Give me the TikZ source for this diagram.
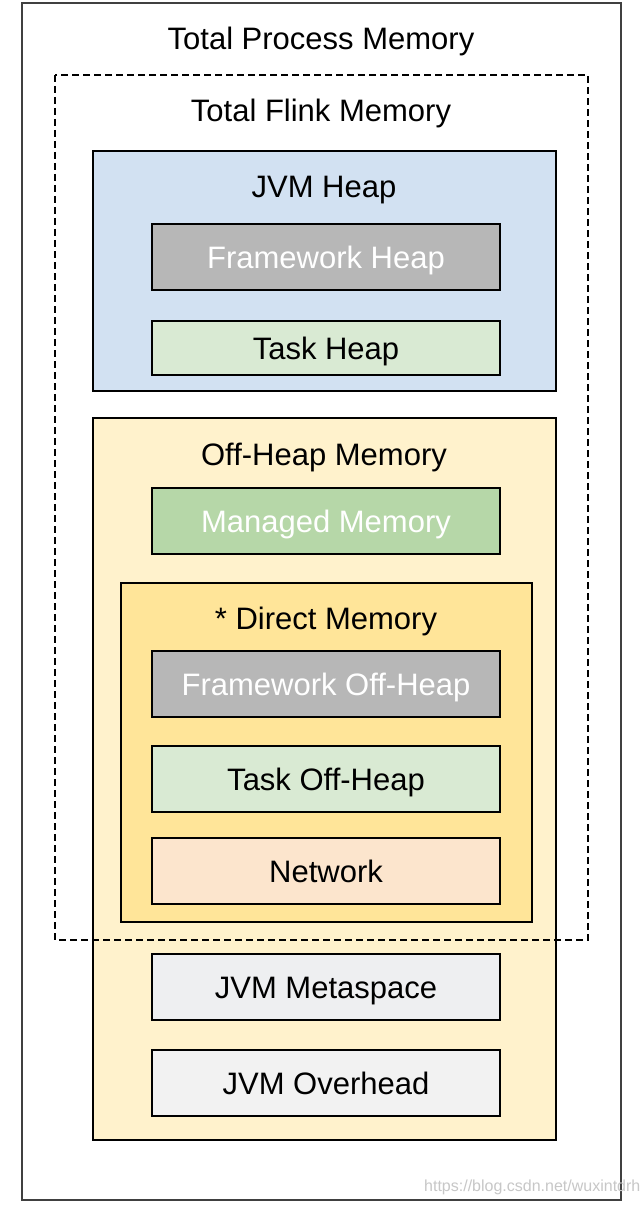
\documentclass[tikz,border=0pt]{standalone}
\usepackage{fontspec}
\setmainfont{Liberation Sans}
\definecolor{heapblue}{HTML}{D2E1F2}
\definecolor{fwgray}{HTML}{B7B7B7}
\definecolor{taskgreen}{HTML}{D9EAD3}
\definecolor{mangreen}{HTML}{B6D7A8}
\definecolor{offyellow}{HTML}{FFF2CC}
\definecolor{diryellow}{HTML}{FFE599}
\definecolor{netorange}{HTML}{FCE5CD}
\definecolor{metagray}{HTML}{EEEFF1}
\definecolor{ovgray}{HTML}{F2F2F2}
\begin{document}
\begin{tikzpicture}[x=1pt,y=-1pt,
  lbl/.style={font=\fontsize{31}{36}\selectfont, inner sep=0pt, text=black,
    text height=22.6pt, text depth=0pt},
  inbox/.style={draw=black, line width=1.3pt, rectangle, inner sep=0pt,
    minimum width=348pt, minimum height=66pt, font=\fontsize{31}{36}\selectfont,
    text height=22.6pt, text depth=0pt},
  cont/.style={draw=black, line width=1.3pt}
]
\useasboundingbox (0,0) rectangle (644,1206);
\fill[white] (0,0) rectangle (644,1206);
% outer
\draw[draw=black!75, line width=1.3pt] (22,3) rectangle (621,1200);
\node[lbl] (tpm) at (321,38) {Total Process Memory};
% containers
\draw[cont, fill=heapblue] (93,151) rectangle (556,391);
\draw[cont, fill=offyellow] (93,418) rectangle (556,1140);
\draw[cont, fill=diryellow] (121,583) rectangle (532,922);
% dashed flink box
\draw[black, line width=1.2pt, dash pattern=on 7pt off 4pt] (55,75) rectangle (588,940);
\node[lbl] (tfm) at (321,110) {Total Flink Memory};
\node[lbl] (jvmheap) at (324,186) {JVM Heap};
\node[lbl] (offheap) at (324,454) {Off-Heap Memory};
\node[lbl] (direct) at (326,618) {* Direct Memory};
% inner boxes
\node[inbox, fill=fwgray, text=white] (fwheap) at (326,257) {Framework Heap};
\node[inbox, fill=taskgreen, minimum height=54pt] (taskheap) at (326,348) {Task Heap};
\node[inbox, fill=mangreen, text=white] (managed) at (326,521) {Managed Memory};
\node[inbox, fill=fwgray, text=white] (fwoff) at (326,684) {Framework Off-Heap};
\node[inbox, fill=taskgreen] (taskoff) at (326,779) {Task Off-Heap};
\node[inbox, fill=netorange] (network) at (326,871) {Network};
\node[inbox, fill=metagray] (meta) at (326,987) {JVM Metaspace};
\node[inbox, fill=ovgray] (overhead) at (326,1083) {JVM Overhead};
% watermark
\node[anchor=west, inner sep=0pt, text=black!22, font=\fontsize{16}{18}\selectfont] (wm) at (424,1187) {https://blog.csdn.net/wuxintdrh};
\end{tikzpicture}
\end{document}
